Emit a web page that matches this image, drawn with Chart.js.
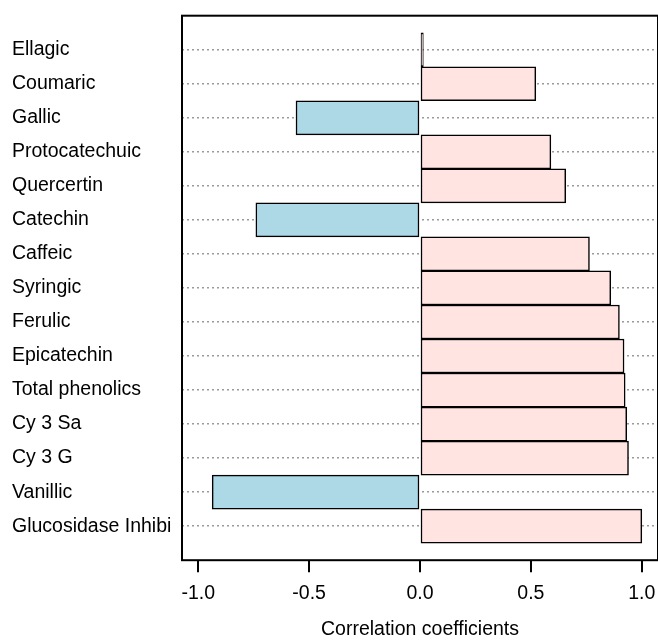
<!DOCTYPE html>
<html>
<head>
<meta charset="utf-8">
<script src="https://cdn.jsdelivr.net/npm/chart.js@4/dist/chart.umd.min.js"></script>
<style>
  html, body { margin: 0; padding: 0; background: #fff; }
  #wrap { width: 658px; height: 641px; }
</style>
</head>
<body>
<div id="wrap"><canvas id="corrChart"></canvas></div>
<script>
// categories top to bottom
const categories = ['Ellagic', 'Coumaric', 'Gallic', 'Protocatechuic', 'Quercertin', 'Catechin',
  'Caffeic', 'Syringic', 'Ferulic', 'Epicatechin', 'Total phenolics', 'Cy 3 Sa', 'Cy 3 G',
  'Vanillic', 'Glucosidase Inhibi'];
const coefficients = [0.015, 0.522, -0.559, 0.59, 0.657, -0.74,
  0.764, 0.86, 0.899, 0.92, 0.925, 0.932, 0.94,
  -0.937, 1.0];
const xTicks = [-1.0, -0.5, 0.0, 0.5, 1.0];
const xLimits = [-1.073, 1.073];

const posColor = '#ffe4e1';
const negColor = '#add8e6';
const font = { family: '"Liberation Sans", Arial, sans-serif', size: 19.5 };

// draw the full box around the plot
const frame = {
  id: 'frame',
  afterDatasetsDraw(chart) {
    const a = chart.chartArea;
    const ctx = chart.ctx;
    ctx.save();
    ctx.strokeStyle = '#000';
    ctx.lineWidth = 2;
    ctx.strokeRect(a.left, a.top, a.right - a.left, a.bottom - a.top);
    ctx.restore();
  }
};

const ctx = document.getElementById('corrChart').getContext('2d');
new Chart(ctx, {
  type: 'bar',
  data: {
    datasets: [{
      label: 'Correlation',
      data: coefficients.map((v, i) => ({ x: v, y: i })),
      backgroundColor: coefficients.map(v => v < 0 ? negColor : posColor),
      borderColor: '#000',
      borderWidth: 1.5,
      borderSkipped: false,
      categoryPercentage: 1,
      barPercentage: 1
    }]
  },
  plugins: [frame],
  options: {
    indexAxis: 'y',
    responsive: true,
    maintainAspectRatio: false,
    animation: false,
    layout: { padding: { left: 12, top: 15, right: 0, bottom: 0 } },
    plugins: {
      legend: { display: false },
      tooltip: { enabled: false }
    },
    scales: {
      y: {
        type: 'linear',
        reverse: true,
        offset: false,
        min: -1,
        max: categories.length,
        afterBuildTicks: scale => {
          scale.ticks = categories.map((c, i) => ({ value: i }));
        },
        afterFit: scale => { scale.width = 170; },
        grid: {
          offset: false,
          drawTicks: false,
          color: '#9a9a9a',
          lineWidth: 1.5
        },
        border: { display: false, dash: [2, 3] },
        ticks: {
          crossAlign: 'far',
          color: '#000',
          font: font,
          padding: 4,
          callback: v => categories[v]
        }
      },
      x: {
        min: xLimits[0],
        max: xLimits[1],
        afterBuildTicks: scale => {
          scale.ticks = xTicks.map(v => ({ value: v }));
        },
        afterFit: scale => {
          scale.paddingLeft = 0;
          scale.paddingRight = 0;
        },
        grid: {
          drawOnChartArea: false,
          drawTicks: true,
          tickLength: 12,
          color: '#000',
          lineWidth: 2
        },
        border: { display: false },
        ticks: {
          color: '#000',
          font: font,
          padding: 10,
          maxRotation: 0,
          callback: v => v.toFixed(1)
        },
        title: {
          display: true,
          text: 'Correlation coefficients',
          color: '#000',
          font: font,
          padding: { top: 2, bottom: 0 }
        }
      }
    }
  }
});
</script>
</body>
</html>
